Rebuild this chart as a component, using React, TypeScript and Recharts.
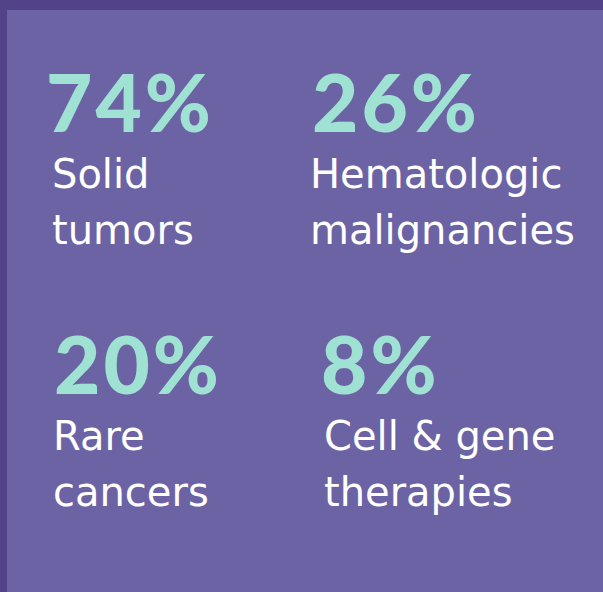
import { ScatterChart, Scatter, XAxis, YAxis } from "recharts"

const values = [74, 26, 20, 8]
const labelLines = [
  ["Solid", "tumors"],
  ["Hematologic", "malignancies"],
  ["Rare", "cancers"],
  ["Cell & gene", "therapies"],
]
const columns = ["left", "right", "left", "right"]
const rows = ["top", "top", "bottom", "bottom"]

const data = values.map((v, i) => ({
  value: v,
  lines: labelLines[i],
  col: columns[i],
  row: rows[i],
}))

// layout nudges from each cell centre (px)
const NUDGE = [
  { num: -110, lab: -104, dy: -23.5 },
  { num: -142, lab: -144, dy: -23.5 },
  { num: -102, lab: -103, dy: -52.5 },
  { num: -133, lab: -130, dy: -52.5 },
]

const TEAL = "#9fe1d3"

function StatCell(props: any) {
  const { cx, cy, payload, index } = props
  const n = NUDGE[index] || NUDGE[0]
  const base = cy + n.dy
  return (
    <g>
      <text
        x={cx + n.num}
        y={base}
        fill={TEAL}
        fontFamily="Lato"
        fontWeight={900}
        fontSize={80}
        letterSpacing={3}
      >
        {payload.value}%
      </text>
      {payload.lines.map((line: string, i: number) => (
        <text
          key={line}
          x={cx + n.lab}
          y={base + 56 * (i + 1)}
          fill="#ffffff"
          fontFamily="DejaVu Sans"
          fontSize={40}
        >
          {line}
        </text>
      ))}
    </g>
  )
}

export default function App() {
  return (
    <div style={{ position: "relative", width: 603, height: 592, background: "#524389", overflow: "hidden" }}>
      <style>{`body{margin:0}`}</style>
      <div style={{ position: "absolute", left: 7, top: 10, width: 596, height: 582, background: "#6c63a4" }}>
        <ScatterChart width={596} height={582} margin={{ top: 0, right: 0, bottom: 0, left: 0 }}>
          <XAxis type="category" dataKey="col" allowDuplicatedCategory={false} hide />
          <YAxis type="category" dataKey="row" allowDuplicatedCategory={false} hide reversed />
          <Scatter data={data} shape={StatCell} isAnimationActive={false} />
        </ScatterChart>
      </div>
    </div>
  )
}
